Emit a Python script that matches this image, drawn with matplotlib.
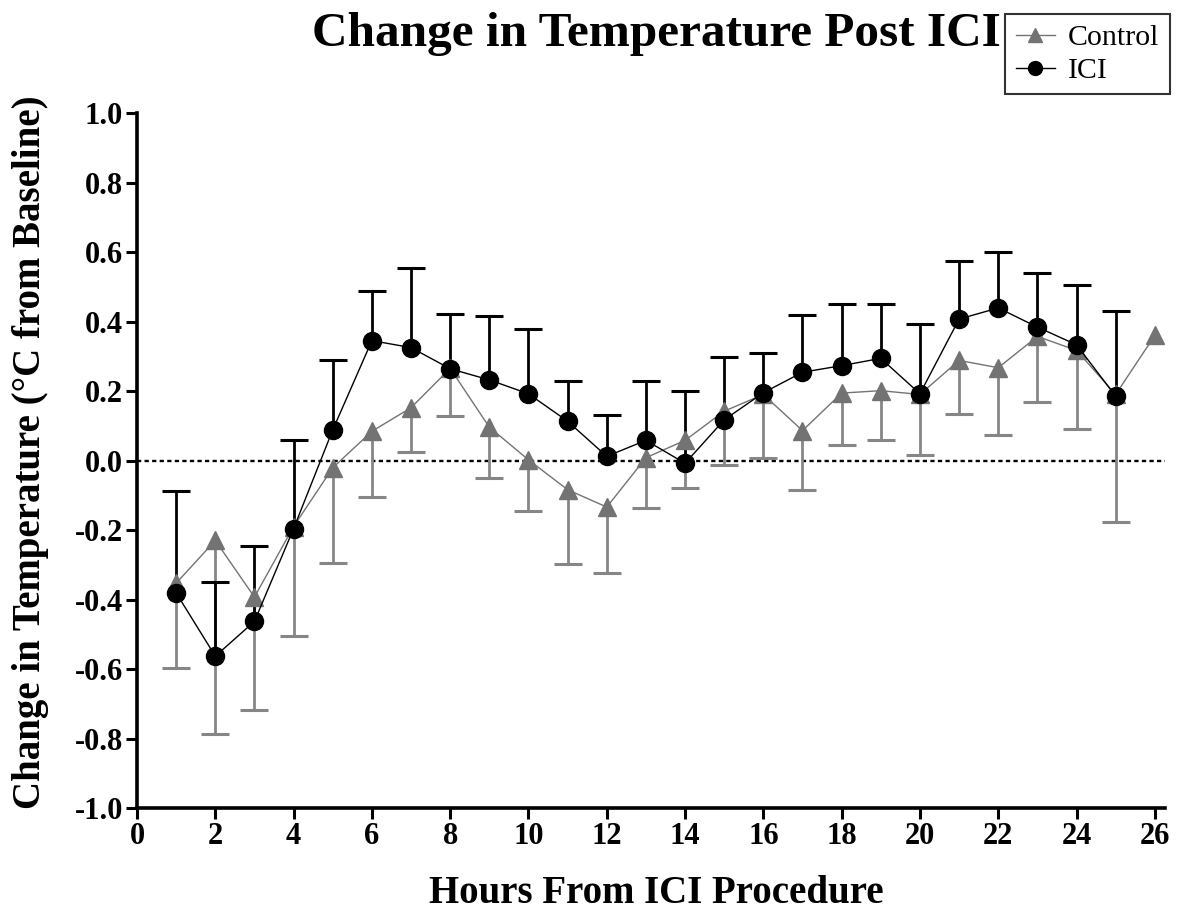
import matplotlib
matplotlib.use("Agg")
import matplotlib.pyplot as plt
import numpy as np
from matplotlib.lines import Line2D

plt.rcParams['font.family'] = ['Liberation Serif', 'DejaVu Serif']
plt.rcParams['axes.unicode_minus'] = False

# hourly mean change from baseline (deg C) and SEM
hours = np.arange(1, 27)
control_mean = [-0.353, -0.23, -0.393, -0.19, -0.021, 0.084, 0.152, 0.265, 0.096, 0.002,
                -0.084, -0.134, 0.008, 0.058, 0.142, 0.19, 0.086, 0.194, 0.201, 0.19,
                0.288, 0.267, 0.357, 0.317, 0.19, 0.36]
control_sem = [0.245, 0.558, 0.326, 0.315, 0.273, 0.188, 0.128, 0.137, 0.146, 0.148,
               0.213, 0.19, 0.144, 0.137, 0.154, 0.183, 0.17, 0.149, 0.141, 0.173,
               0.153, 0.193, 0.19, 0.226, 0.368, np.nan]

ici_hours = np.arange(1, 26)
ici_mean = [-0.381, -0.563, -0.463, -0.196, 0.088, 0.345, 0.325, 0.264, 0.232, 0.192,
            0.113, 0.012, 0.058, -0.008, 0.117, 0.195, 0.254, 0.273, 0.294, 0.192,
            0.407, 0.439, 0.384, 0.333, 0.185]
ici_sem = [0.293, 0.212, 0.218, 0.254, 0.202, 0.144, 0.228, 0.158, 0.185, 0.187,
           0.117, 0.12, 0.172, 0.209, 0.182, 0.115, 0.166, 0.176, 0.155, 0.201,
           0.166, 0.16, 0.157, 0.173, 0.245]

x_ticks = np.arange(0, 27, 2)
y_ticks = np.round(np.arange(-1.0, 1.01, 0.2), 1)

GRAY = "#737373"
BAR_GRAY = "#868686"

fig = plt.figure(figsize=(11.77, 9.15), dpi=100)
ax = fig.add_axes([0.1164, 0.1169, 0.8734, 0.7596])


def one_sided_bars(x, mean, sem, direction, color):
    mean = np.asarray(mean, dtype=float)
    sem = np.asarray(sem, dtype=float)
    end = mean + direction * sem
    ok = ~np.isnan(end)
    ax.vlines(np.asarray(x)[ok], mean[ok], end[ok], color=color, lw=2.0, zorder=2)
    ax.plot(np.asarray(x)[ok], end[ok], ls='none', marker='_', ms=20, mew=2.2,
            color=color, zorder=2)


# zero reference
ax.axhline(0, color='black', ls=(0, (1.8, 1.4)), lw=1.7, zorder=1)

# control: gray triangles, SEM below
one_sided_bars(hours, control_mean, control_sem, -1, BAR_GRAY)
ax.plot(hours, control_mean, color=GRAY, lw=1.0, marker='^', ms=13,
        mfc=GRAY, mec=GRAY, zorder=3)

# ICI: black circles, SEM above
one_sided_bars(ici_hours, ici_mean, ici_sem, 1, 'black')
ax.plot(ici_hours, ici_mean, color='black', lw=1.0, marker='o', ms=13,
        mfc='black', mec='black', zorder=4)

ax.set_xlim(0, 26.26)
ax.set_ylim(-1.0, 1.0)
ax.set_xticks(x_ticks)
ax.set_yticks(y_ticks)
ax.set_yticklabels(["%.1f" % (v + 0.0) for v in y_ticks])
for lab in ax.get_xticklabels() + ax.get_yticklabels():
    lab.set_fontweight('bold')
    lab.set_fontsize(22)
ax.tick_params(direction='out', length=8, width=2.2, pad=2)

for side in ['top', 'right']:
    ax.spines[side].set_visible(False)
for side in ['left', 'bottom']:
    ax.spines[side].set_linewidth(2.6)

fig.text(0.558, 0.963, "Change in Temperature Post ICI", ha='center', va='center',
         fontsize=35.5, fontweight='bold')
fig.text(0.026, 0.506, "Change in Temperature (\u00b0C from Baseline)", ha='center',
         va='center', rotation=90, fontsize=28, fontweight='bold')
fig.text(0.558, 0.024, "Hours From ICI Procedure", ha='center', va='center',
         fontsize=28, fontweight='bold')

handles = [
    Line2D([], [], color=GRAY, lw=1.0, marker='^', ms=10, mfc=GRAY, mec=GRAY),
    Line2D([], [], color='black', lw=1.0, marker='o', ms=10, mfc='black', mec='black'),
]
leg = fig.legend(handles, ["Control", "ICI"], loc='upper right',
                 bbox_to_anchor=(0.994, 0.985), fontsize=21.5, frameon=True,
                 fancybox=False, edgecolor='black', handlelength=1.3,
                 handletextpad=0.45, borderpad=0.35, labelspacing=0.2,
                 borderaxespad=0)
leg.get_frame().set_linewidth(1.5)

fig.savefig("out.png", dpi=100)
